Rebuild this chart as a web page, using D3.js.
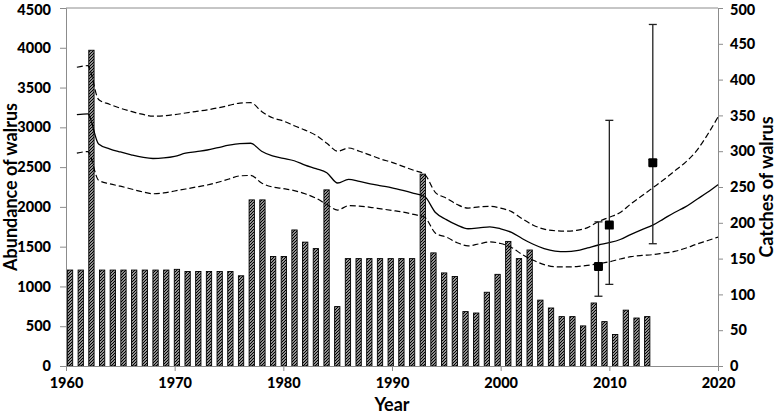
<!DOCTYPE html>
<html>
<head>
<meta charset="utf-8">
<script src="https://cdn.jsdelivr.net/npm/d3@7"></script>
<style>
  html, body { margin: 0; padding: 0; background: #fff; }
  svg { display: block; }
  text { font-family: Lato, "Open Sans", sans-serif; font-weight: 700; fill: #000; }
</style>
</head>
<body>
<svg id="chart" width="777" height="414"></svg>
<script>
// ---- data ----
const barYears = [1960,1961,1962,1963,1964,1965,1966,1967,1968,1969,1970,1971,1972,1973,1974,1975,1976,1977,1978,1979,
  1980,1981,1982,1983,1984,1985,1986,1987,1988,1989,1990,1991,1992,1993,1994,1995,1996,1997,1998,1999,
  2000,2001,2002,2003,2004,2005,2006,2007,2008,2009,2010,2011,2012,2013,2014];
const catches = [134,134,441,134,134,134,134,134,134,134,135,132,132,132,132,132,126,232,232,153,
  153,190,173,164,246,83,150,150,150,150,150,150,150,268,158,130,125,76,74,103,
  128,174,150,162,92,81,69,69,56,88,62,44,78,67,69];
const barCategories = [1960,1961,1962,1963,1964,1965,1966,1967,1968,1969,1970,1971,1972,1973,1974,1975,1976,1977,1978,1979,
  1980,1981,1982,1983,1984,1985,1986,1987,1988,1989,1990,1991,1992,1993,1994,1995,1996,1997,1998,1999,
  2000,2001,2002,2003,2004,2005,2006,2007,2008,2009,2010,2011,2012,2013,2014,2015,2016,2017,2018,2019,2020];

const lineYears = [1961,1962,1963,1964,1965,1966,1967,1968,1969,1970,1971,1972,1973,1974,1975,1976,1977,1978,1979,1980,
  1981,1982,1983,1984,1985,1986,1987,1988,1989,1990,1991,1992,1993,1994,1995,1996,1997,1998,1999,2000,
  2001,2002,2003,2004,2005,2006,2007,2008,2009,2010,2011,2012,2013,2014,2015,2016,2017,2018,2019,2020];
const abundance = [3160,3170,2790,2730,2690,2655,2625,2608,2615,2635,2675,2695,2715,2745,2775,2795,2800,2700,2640,2610,
  2580,2525,2480,2430,2300,2345,2320,2290,2265,2240,2207,2170,2130,1930,1840,1770,1725,1735,1750,1725,
  1680,1600,1530,1475,1445,1438,1450,1485,1521,1550,1590,1655,1715,1770,1850,1930,2000,2090,2180,2280];
const upperCI = [3755,3775,3350,3290,3240,3200,3165,3140,3145,3160,3180,3200,3220,3245,3275,3305,3310,3200,3120,3080,
  3020,2965,2900,2800,2700,2740,2700,2650,2600,2560,2510,2460,2410,2180,2110,2030,1985,2000,2007,1985,
  1940,1850,1770,1720,1700,1695,1705,1740,1815,1870,1930,2040,2140,2240,2340,2450,2560,2700,2900,3130];
const lowerCI = [2675,2695,2335,2290,2260,2225,2190,2165,2175,2200,2225,2250,2275,2310,2350,2390,2395,2300,2250,2230,
  2205,2165,2110,2030,1960,2015,2010,1995,1975,1955,1935,1905,1870,1670,1620,1550,1510,1535,1560,1540,
  1490,1400,1330,1275,1248,1245,1250,1265,1285,1310,1345,1375,1390,1400,1420,1440,1480,1530,1575,1620];

const surveyYears = [2009, 2010, 2014];
const surveyEst = [1251, 1771, 2556];
const surveyLow = [877, 1026, 1537];
const surveyHigh = [1812, 3088, 4293];

const xTicks = [1960,1970,1980,1990,2000,2010,2020];
const yLeftTicks = [0,500,1000,1500,2000,2500,3000,3500,4000,4500];
const yRightTicks = [0,50,100,150,200,250,300,350,400,450,500];

// ---- layout ----
const svg = d3.select("#chart");
const L = 66, R = 718, T = 8, B = 366;
const axisColor = "#8c8c8c";
const tickFont = "14.5px";

const x = d3.scaleLinear().domain([1960, 2020]).range([L, R]);
const yL = d3.scaleLinear().domain([0, 4500]).range([B, T]);
const yR = d3.scaleLinear().domain([0, 500]).range([B, T]);
const xb = d3.scaleBand().domain(barCategories).range([L - 1.3, R - 1.3]).paddingInner(0.5).paddingOuter(0.25);

// hatch pattern
const defs = svg.append("defs");
const pat = defs.append("pattern").attr("id", "hatch")
  .attr("patternUnits", "userSpaceOnUse").attr("width", 3).attr("height", 3);
pat.append("rect").attr("width", 3).attr("height", 3).attr("fill", "#fff");
pat.append("path").attr("d", "M-1,1 L1,-1 M0,3 L3,0 M2,4 L4,2")
  .attr("stroke", "#000").attr("stroke-width", 1.25);

// top border
svg.append("line").attr("x1", L).attr("x2", R).attr("y1", T).attr("y2", T)
  .attr("stroke", axisColor).attr("stroke-width", 1);

// bars
const bw = 5.3;
svg.append("g").selectAll("rect").data(barYears).join("rect")
  .attr("x", (d) => xb(d) + xb.bandwidth() / 2 - bw / 2)
  .attr("width", bw)
  .attr("y", (d, i) => yR(catches[i]))
  .attr("height", (d, i) => B - yR(catches[i]))
  .attr("fill", "url(#hatch)")
  .attr("stroke", "#000").attr("stroke-width", 0.9);

// axes
function styleAxis(g) {
  g.attr("font-family", null).attr("font-size", null);
  g.selectAll(".domain").attr("stroke", axisColor);
  g.selectAll(".tick line").attr("stroke", axisColor);
  g.selectAll(".tick text")
    .style("font-family", "Lato, 'Open Sans', sans-serif")
    .style("font-weight", "900").style("font-size", tickFont).attr("fill", "#000");
}
const gx = svg.append("g").attr("transform", `translate(0,${B})`)
  .call(d3.axisBottom(x).tickValues(xTicks).tickFormat(d3.format("d")).tickSizeOuter(0).tickSize(5).tickPadding(7));
styleAxis(gx);
const gl = svg.append("g").attr("transform", `translate(${L},0)`)
  .call(d3.axisLeft(yL).tickValues(yLeftTicks).tickFormat(d3.format("d")).tickSizeOuter(0).tickSize(6).tickPadding(9));
styleAxis(gl);
const gr = svg.append("g").attr("transform", `translate(${R},0)`)
  .call(d3.axisRight(yR).tickValues(yRightTicks).tickFormat(d3.format("d")).tickSizeOuter(0).tickSize(5).tickPadding(7));
styleAxis(gr);
// keep the topmost labels inside the picture
gl.selectAll(".tick text").filter((d) => d === 4500).attr("dy", "0.42em");
gr.selectAll(".tick text").filter((d) => d === 500).attr("dy", "0.42em");

// lines
const mk = (vals) => d3.line().x((d, i) => x(lineYears[i])).y((d) => yL(d)).curve(d3.curveMonotoneX)(vals);
svg.append("path").attr("d", mk(upperCI)).attr("fill", "none").attr("stroke", "#000")
  .attr("stroke-width", 1.2).attr("stroke-dasharray", "6,3");
svg.append("path").attr("d", mk(lowerCI)).attr("fill", "none").attr("stroke", "#000")
  .attr("stroke-width", 1.2).attr("stroke-dasharray", "6,3");
svg.append("path").attr("d", mk(abundance)).attr("fill", "none").attr("stroke", "#000")
  .attr("stroke-width", 1.3);

// error bars
const eg = svg.append("g");
surveyYears.forEach((yr, i) => {
  const cx = x(yr);
  eg.append("line").attr("x1", cx).attr("x2", cx).attr("y1", yL(surveyLow[i])).attr("y2", yL(surveyHigh[i]))
    .attr("stroke", "#222").attr("stroke-width", 1.3);
  [surveyLow[i], surveyHigh[i]].forEach((v) => {
    eg.append("line").attr("x1", cx - 4).attr("x2", cx + 4).attr("y1", yL(v)).attr("y2", yL(v))
      .attr("stroke", "#222").attr("stroke-width", 1.3);
  });
  eg.append("rect").attr("x", cx - 4.5).attr("y", yL(surveyEst[i]) - 4.5).attr("width", 9).attr("height", 9)
    .attr("rx", 1.2).attr("fill", "#000");
});

// titles
svg.append("text").attr("transform", `translate(17,${(T + B) / 2}) rotate(-90)`)
  .attr("text-anchor", "middle").style("font-size", "18px").text("Abundance of walrus");
svg.append("text").attr("transform", `translate(773,${(T + B) / 2}) rotate(-90)`)
  .attr("text-anchor", "middle").style("font-size", "18px").text("Catches of walrus");
svg.append("text").attr("x", 392).attr("y", 411)
  .attr("text-anchor", "middle").style("font-size", "18px").text("Year");
</script>
</body>
</html>
